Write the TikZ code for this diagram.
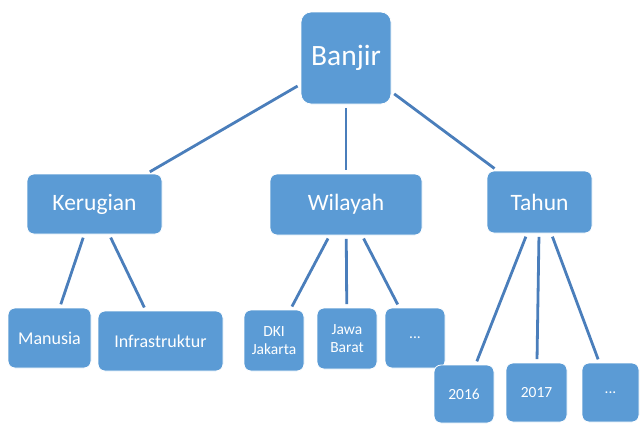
\documentclass[tikz,border=0pt]{standalone}
\usepackage{fontspec}
\setmainfont{Carlito}
\usetikzlibrary{positioning}

\definecolor{boxblue}{HTML}{5B9BD5}
\definecolor{lineblue}{HTML}{4A7EBB}

\tikzset{
  box/.style={draw=white,line width=0.8pt,fill=boxblue,text=white,rounded corners=7pt,
    inner sep=0pt,align=center},
  link/.style={lineblue,line width=2.8pt,shorten <=3.5pt,shorten >=3.5pt},
}

\begin{document}
\begin{tikzpicture}[x=1pt,y=-1pt]
\useasboundingbox (0,0) rectangle (640,424);

%banjir
\node[box,rounded corners=10pt,minimum width=90,minimum height=92,font=\fontsize{29.5}{31}\selectfont] (banjir) at (346,58) {Banjir};
%kerugian
\node[box,minimum width=135,minimum height=60,font=\fontsize{23.5}{26}\selectfont] (kerugian) at (94.5,204) {Kerugian};
%wilayah
\node[box,minimum width=152,minimum height=61,font=\fontsize{23.5}{26}\selectfont] (wilayah) at (346,204.5) {Wilayah};
%tahun
\node[box,minimum width=105,minimum height=62,font=\fontsize{23.5}{26}\selectfont] (tahun) at (539.5,202) {Tahun};

%kerugian children
\node[box,minimum width=83,minimum height=60,font=\fontsize{18}{20}\selectfont] (manusia) at (49.5,338) {Manusia};
\node[box,minimum width=125,minimum height=60,font=\fontsize{18}{20}\selectfont] (infra) at (160.5,341) {Infrastruktur};
%wilayah children
\node[box,minimum width=60,minimum height=61,font=\fontsize{15.5}{18}\selectfont] (dki) at (274,340.5) {DKI\\Jakarta};
\node[box,minimum width=60,minimum height=61,font=\fontsize{15.5}{18}\selectfont] (jawa) at (347,338.5) {Jawa\\Barat};
\node[box,minimum width=60,minimum height=60,font=\fontsize{15.5}{18}\selectfont] (wdots) at (415,338) {...};
%tahun children
\node[box,minimum width=60,minimum height=58,font=\fontsize{15.5}{18}\selectfont] (y2016) at (464,394) {2016};
\node[box,minimum width=61,minimum height=59,font=\fontsize{15.5}{18}\selectfont] (y2017) at (536.5,392.5) {2017};
\node[box,minimum width=57,minimum height=59,font=\fontsize{15.5}{18}\selectfont] (tdots) at (610.5,392.5) {...};

%links
\draw[link] (banjir) -- (kerugian);
\draw[link] (banjir) -- (wilayah);
\draw[link] (banjir) -- (tahun);
\draw[link] (kerugian) -- (manusia);
\draw[link] (kerugian) -- (infra);
\draw[link] (wilayah) -- (dki);
\draw[link] (wilayah) -- (jawa);
\draw[link] (wilayah) -- (wdots);
\draw[link] (tahun) -- (y2016);
\draw[link] (tahun) -- (y2017);
\draw[link] (tahun) -- (tdots);

\end{tikzpicture}
\end{document}
